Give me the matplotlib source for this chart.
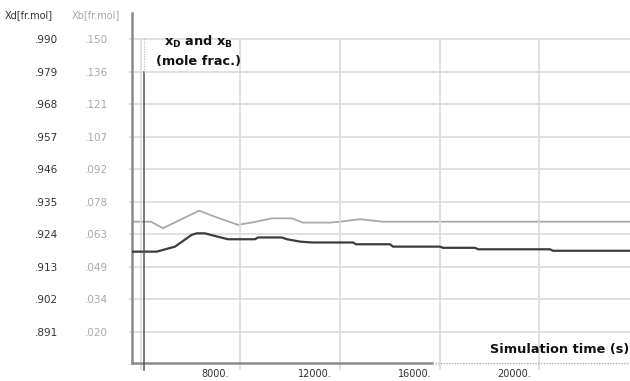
import matplotlib
matplotlib.use('Agg')
import matplotlib.pyplot as plt
import matplotlib.transforms as mtransforms

# ---- data ----
time_xd = [3640, 4635, 5370, 6040, 6241, 6574, 6976, 7498, 8582, 8703, 9655, 9867,
           10390, 10871, 12518, 12638, 14004, 14124, 16012, 16132, 17420, 17538,
           20429, 20550, 23643]
xd = [0.9181, 0.9181, 0.9198, 0.9238, 0.9243, 0.9243, 0.9234, 0.9223, 0.9223, 0.9229,
      0.9229, 0.9223, 0.9215, 0.9212, 0.9212, 0.9206, 0.9206, 0.9198, 0.9198, 0.9194,
      0.9194, 0.9189, 0.9189, 0.9184, 0.9184]

time_xb = [3640, 4406, 4888, 5610, 6333, 7096, 7900, 8582, 9265, 10056, 10510, 11594,
           11996, 12799, 13723, 23643]
xb = [0.0689, 0.0689, 0.0660, 0.0699, 0.0738, 0.0706, 0.0675, 0.0688, 0.0704, 0.0704,
      0.0685, 0.0685, 0.0689, 0.0700, 0.0689, 0.0689]

xd_ticks = [0.891, 0.902, 0.913, 0.924, 0.935, 0.946, 0.957, 0.968, 0.979, 0.990]
xd_labels = ['.891', '.902', '.913', '.924', '.935', '.946', '.957', '.968', '.979', '.990']
xb_ticks = [0.020, 0.0344, 0.0489, 0.0633, 0.0778, 0.0922, 0.1067, 0.1211, 0.1356, 0.150]
xb_labels = ['.020', '.034', '.049', '.063', '.078', '.092', '.107', '.121', '.136', '.150']
time_ticks = [4000, 8000, 12000, 16000, 20000]
time_labels = ['', '8000.', '12000.', '16000.', '20000.']
disturbance_time = 4140

xlim = (3635, 23643)
xd_lim = (0.880295, 0.998905)
xb_lim = (0.005942, 0.161694)

DARK = '#3c3c3c'
LIGHT = '#a9a9a9'
GRID = '#dadada'
SPINE = '#8a8a8a'

W, H = 630, 381
fig = plt.figure(figsize=(W / 100, H / 100), dpi=100)
left, right, top, bottom = 131.8, 630, 13, 363.3
ax = fig.add_axes([left / W, 1 - bottom / H, (right - left) / W, (bottom - top) / H])
ax.set_xlim(*xlim)
ax.set_ylim(*xd_lim)

ax2 = ax.twinx()
ax2.set_ylim(*xb_lim)
ax2.yaxis.tick_left()
for s in ax2.spines.values():
    s.set_visible(False)

for s in ['top', 'right']:
    ax.spines[s].set_visible(False)
ax.spines['left'].set_color(SPINE)
ax.spines['left'].set_linewidth(1.8)
ax.spines['bottom'].set_color(SPINE)
ax.spines['bottom'].set_linewidth(1.8)
ax.spines['bottom'].set_bounds(xlim[0], 15700)
frac = (15700 - xlim[0]) / (xlim[1] - xlim[0])
ax.axhline(xd_lim[0], xmin=frac, xmax=1, color='#b0b0b0', lw=1.0, ls=(0, (1, 1)),
           clip_on=False, zorder=3)

# grid
ax.set_yticks(xd_ticks)
ax.set_yticklabels(xd_labels)
ax.yaxis.grid(True, color=GRID, lw=1.2)
ax.vlines(time_ticks, xd_lim[0], xd_ticks[-1], color=GRID, lw=1.2, zorder=0.5)
ax.set_axisbelow(True)

ax.tick_params(axis='y', length=2.5, color=GRID, width=1.2, pad=50.5,
               labelsize=7.5, labelcolor='#333333')
ax2.set_yticks(xb_ticks)
ax2.set_yticklabels(xb_labels)
ax2.tick_params(axis='y', length=0, pad=17.3, labelsize=7.5, labelcolor='#a8a8a8')

ax.set_xticks(time_ticks)
ax.set_xticklabels(time_labels)
ax.tick_params(axis='x', length=4.8, color=GRID, width=1.2, pad=-0.8,
               labelsize=7, labelcolor='#333333')
off = mtransforms.ScaledTranslation(-25 / 100, 0, fig.dpi_scale_trans)
for lab in ax.get_xticklabels():
    lab.set_transform(lab.get_transform() + off)

# disturbance marker
y_lo_ext = -(370 - bottom) / (bottom - top)
y_top_solid = (bottom - 72) / (bottom - top)
y_top_dot = (bottom - 38) / (bottom - top)
ax.axvline(disturbance_time, ymin=y_lo_ext, ymax=y_top_solid, color='#555555', lw=1.1,
           clip_on=False, zorder=4)
ax.axvline(disturbance_time, ymin=y_top_solid, ymax=y_top_dot, color='#c0c0c0', lw=0.9,
           ls=(0, (1, 1)), clip_on=False, zorder=4)

# series
ax2.plot(time_xb, xb, color=LIGHT, lw=1.3, zorder=3)
ax.plot(time_xd, xd, color=DARK, lw=1.6, zorder=3)
ax.set_zorder(ax2.get_zorder() + 1)
ax.patch.set_visible(False)

# texts
fig.text(5 / W, 1 - 15.5 / H, 'Xd[fr.mol]', fontsize=7, color='#333333', va='center', ha='left')
fig.text(72 / W, 1 - 15.5 / H, 'Xb[fr.mol]', fontsize=7, color='#a8a8a8', va='center', ha='left')
fig.text(198 / W, 1 - 46 / H, r'$\mathbf{x_D}$ and $\mathbf{x_B}$', fontsize=9.3,
         fontweight='bold', ha='center', va='baseline', color='#111111')
fig.text(198 / W, 1 - 65 / H, '(mole frac.)', fontsize=9.3, fontweight='bold',
         ha='center', va='baseline', color='#111111')
fig.text(629 / W, 1 - 353 / H, 'Simulation time (s)', fontsize=9.3, fontweight='bold',
         ha='right', va='baseline', color='#111111')

fig.savefig('out.png', dpi=100)
